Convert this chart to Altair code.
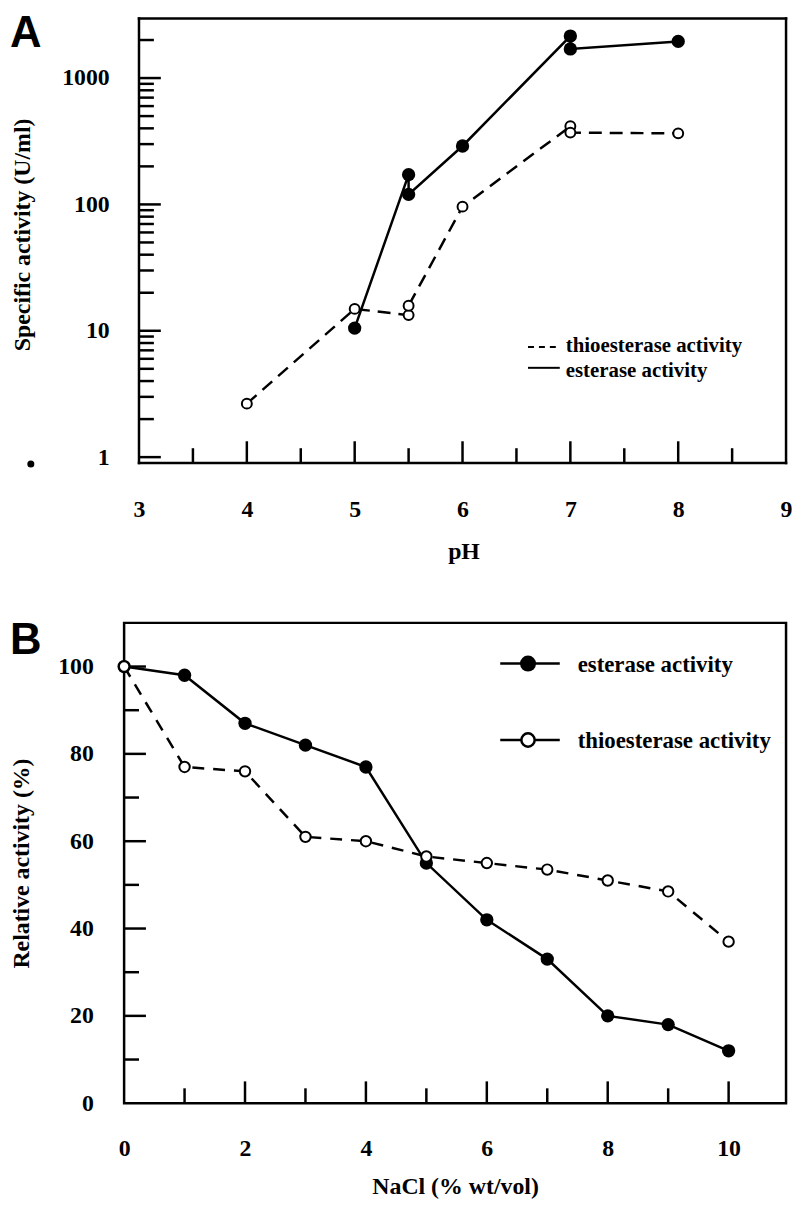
import altair as alt
import pandas as pd

# ---------------- data ----------------
series = ["esterase activity", "thioesterase activity"]
panel_labels = ["A", "B"]

# Panel A : activity vs pH (log scale)
ph_est = [5, 5.5, 5.5, 6, 7, 7, 8]
act_est = [10.5, 172, 120, 290, 2150, 1700, 1950]
ph_thio = [4, 5, 5.5, 5.5, 6, 7, 7, 8]
act_thio = [2.65, 14.9, 13.3, 15.8, 96, 415, 370, 365]

# Panel B : relative activity vs NaCl
nacl = [0, 1, 2, 3, 4, 5, 6, 7, 8, 9, 10]
rel_est = [100, 98, 87, 82, 77, 55, 42, 33, 20, 18, 12]
rel_thio = [100, 77, 76, 61, 60, 56.5, 55, 53.5, 51, 48.5, 37]

# tick positions
a_x_labels = [3, 4, 5, 6, 7, 8, 9]
a_x_major = [4, 5, 6, 7, 8]
a_x_minor = [3.5, 4.5, 5.5, 6.5, 7.5, 8.5]
a_y_major = [1, 10, 100, 1000]
a_y_minor = [2, 3, 4, 5, 6, 7, 8, 9, 20, 30, 40, 50, 60, 70, 80, 90,
             200, 300, 400, 500, 600, 700, 800, 900, 2000]
b_x_labels = [0, 2, 4, 6, 8, 10]
b_x_major = [2, 4, 6, 8, 10]
b_x_minor = [1, 3, 5, 7, 9]
b_y_labels = [0, 20, 40, 60, 80, 100]
b_y_major = [20, 40, 60, 80, 100]
b_y_minor = [10, 30, 50, 70, 90]

SERIF = "Liberation Serif"
SANS = "Liberation Sans"
ONE = pd.DataFrame({"a": [0]})


def df_xy(xs, ys):
    return pd.DataFrame({"x": xs, "y": ys, "o": list(range(len(xs)))})


def axis(values, title, pad, **kw):
    return alt.Axis(values=values, title=title, format="d", ticks=False, tickSize=0,
                    domain=False, grid=False, labelPadding=pad,
                    labelFont=SERIF, labelFontWeight="bold", labelFontSize=24,
                    labelColor="black", labelFlush=False, labelOverlap=False,
                    titleFont=SERIF, titleFontWeight="bold", titleFontSize=24,
                    titleColor="black", **kw)


def build_panel(H, x0, X, Y, est, thio, dash, sizes,
                x_major, x_minor, y_major, y_minor):
    layers = []
    # inward tick marks
    layers.append(alt.Chart(pd.DataFrame({"x": x_major})).mark_rule(
        color="black", strokeWidth=2.5).encode(x=X, y=alt.value(H), y2=alt.value(H - 22)))
    layers.append(alt.Chart(pd.DataFrame({"x": x_minor})).mark_rule(
        color="black", strokeWidth=2.5).encode(x=X, y=alt.value(H), y2=alt.value(H - 15)))
    layers.append(alt.Chart(pd.DataFrame({"y": y_major})).mark_rule(
        color="black", strokeWidth=2.5).encode(y=Y, x=alt.value(x0), x2=alt.value(x0 + 22)))
    layers.append(alt.Chart(pd.DataFrame({"y": y_minor})).mark_rule(
        color="black", strokeWidth=2.5).encode(y=Y, x=alt.value(x0), x2=alt.value(x0 + 15)))
    # lines
    layers.append(alt.Chart(est).mark_line(color="black", strokeWidth=2.5).encode(
        x=X, y=Y, order="o:Q"))
    layers.append(alt.Chart(thio).mark_line(color="black", strokeWidth=2.5,
                                            strokeDash=dash).encode(x=X, y=Y, order="o:Q"))
    # points
    layers.append(alt.Chart(est).mark_point(shape="circle", filled=True, color="black",
                                            opacity=1, size=sizes[0]).encode(x=X, y=Y))
    layers.append(alt.Chart(thio).mark_point(shape="circle", filled=True, fill="white",
                                             stroke="black", strokeWidth=2, opacity=1,
                                             size=sizes[1]).encode(x=X, y=Y))
    return layers


def label_layer(text, x, y, size, font=SERIF, baseline="alphabetic"):
    return alt.Chart(pd.DataFrame({"t": [text]})).mark_text(
        font=font, fontWeight="bold", fontSize=size, align="left",
        baseline=baseline, color="black").encode(
        text="t:N", x=alt.value(x), y=alt.value(y))


def seg(x1, x2, y1, y2=None, dash=None, width=2.5, cap="butt"):
    kw = {"strokeDash": dash} if dash else {}
    enc = {"x": alt.value(x1), "x2": alt.value(x2), "y": alt.value(y1)}
    if y2 is not None:
        enc["y2"] = alt.value(y2)
    return alt.Chart(ONE).mark_rule(color="black", strokeWidth=width,
                                    strokeCap=cap, **kw).encode(**enc)


# ---------------- Panel A ----------------
# both panels share the same group origin (page x = 123); panel A's plot starts 15px further right
WA, HA, A0 = 667, 448, 15
xa = alt.Scale(domain=[3, 9], range=[A0, WA], nice=False, zero=False)
ya = alt.Scale(type="log", domain=[0.897, 2960], nice=False)
XA = alt.X("x:Q", scale=xa, axis=axis(a_x_labels, "pH", 35, titleX=342, titleY=96,
                                      titleAlign="center", titleBaseline="alphabetic"))
YA = alt.Y("y:Q", scale=ya, axis=axis(a_y_major, "Specific activity (U/ml)", 15,
                                      titleX=-102, titleY=217.5, titleAngle=270,
                                      titleAlign="center", titleBaseline="middle"))

layers_a = [
    # frame
    seg(A0, WA, 0, cap="square"),
    seg(A0, WA, HA, cap="square"),
    seg(A0, A0, 0, HA, cap="square"),
    seg(WA, WA, 0, HA, cap="square"),
]
layers_a += build_panel(HA, A0, XA, YA,
                        df_xy(ph_est, act_est), df_xy(ph_thio, act_thio),
                        [13, 8], (180, 100),
                        a_x_major, a_x_minor, a_y_major, a_y_minor)
layers_a += [
    seg(407, 439, 331, dash=[6, 5], width=2),
    seg(407, 439, 352, width=2),
    label_layer(series[1], 445, 336, 21),
    label_layer(series[0], 445, 361, 21),
    label_layer(panel_labels[0], -115, -6, 44, font=SANS, baseline="top"),
    alt.Chart(ONE).mark_circle(color="black", size=50, opacity=1).encode(
        x=alt.value(-94), y=alt.value(449)),
]
chart_a = alt.layer(*layers_a).properties(
    width=WA, height=HA, view=alt.ViewBackground(stroke=None))

# ---------------- Panel B ----------------
WB, HB = 667, 484
xb = alt.Scale(domain=[0, 10.95], nice=False, zero=False)
yb = alt.Scale(domain=[0, 110], nice=False, zero=False)
XB = alt.X("x:Q", scale=xb, axis=axis(b_x_labels, "NaCl (% wt/vol)", 34, titleY=91,
                                      titleAlign="center", titleBaseline="alphabetic"))
YB = alt.Y("y:Q", scale=yb, axis=axis(b_y_labels, "Relative activity (%)", 31,
                                      titleX=-103, titleY=242, titleAngle=270,
                                      titleAlign="center", titleBaseline="middle"))

layers_b = build_panel(HB, 0, XB, YB,
                       df_xy(nacl, rel_est), df_xy(nacl, rel_thio),
                       [12, 9], (180, 110),
                       b_x_major, b_x_minor, b_y_major, b_y_minor)
layers_b += [
    seg(379, 439, 41),
    seg(379, 439, 118),
    alt.Chart(ONE).mark_point(shape="circle", filled=True, color="black", opacity=1,
                              size=260).encode(x=alt.value(407), y=alt.value(41)),
    alt.Chart(ONE).mark_point(shape="circle", filled=True, fill="white", stroke="black",
                              strokeWidth=2.5, opacity=1, size=180).encode(
        x=alt.value(407), y=alt.value(118)),
    label_layer(series[0], 457, 50, 23),
    label_layer(series[1], 457, 126, 23),
    label_layer(panel_labels[1], -115, -3.5, 44, font=SANS, baseline="top"),
]
chart_b = alt.layer(*layers_b).properties(width=WB, height=HB)

chart = alt.vconcat(chart_a, chart_b, spacing=55).properties(
    padding=0, background="white"
).configure_view(stroke="black", strokeWidth=2.5)

chart.save("out.html", embed_options={"renderer": "svg", "actions": False})
